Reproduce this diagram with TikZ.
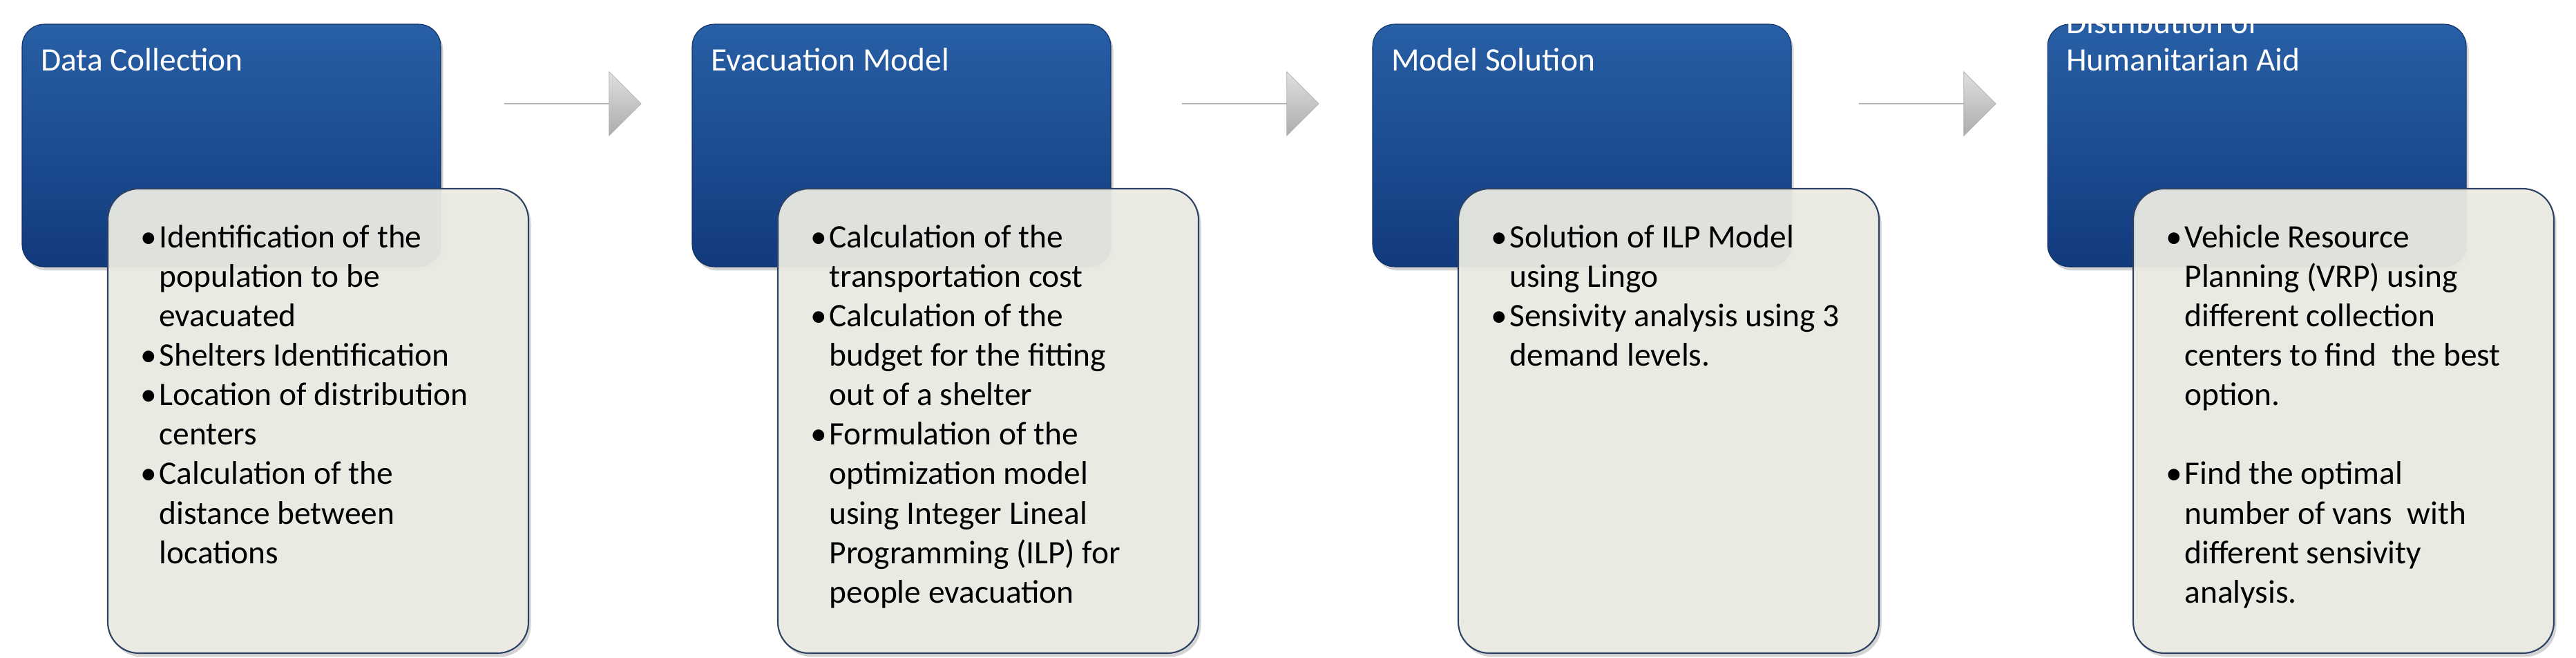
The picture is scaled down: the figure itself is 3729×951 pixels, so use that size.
\documentclass[tikz,border=0pt]{standalone}
\usepackage{fontspec}
\setmainfont{Carlito}
\usetikzlibrary{shapes.arrows,shadows,fadings}
\definecolor{bluetop}{RGB}{40,95,165}
\definecolor{bluebot}{RGB}{18,58,125}
\definecolor{lightbox}{RGB}{236,236,228}
\definecolor{edgeblue}{RGB}{45,65,100}
\tikzset{
  x=0.02cm, y=-0.02cm,
  bluebox/.style={rounded corners=32*0.02cm, top color=bluetop, bottom color=bluebot, draw=bluebot!80!black, line width=0.6pt, drop shadow={shadow xshift=2pt,shadow yshift=-3pt,opacity=0.35}},
  lightbox/.style={rounded corners=45*0.02cm, fill=lightbox, fill opacity=0.93, draw=edgeblue, line width=1.2pt, drop shadow={shadow xshift=2pt,shadow yshift=-3pt,opacity=0.35}},
  title/.style={anchor=base west, text=white, font=\fontsize{27}{32.5}\selectfont, align=left, inner sep=0pt},
  body/.style={anchor=north west, font=\fontsize{27}{32.5}\selectfont, inner sep=0pt, text=black},
  flowarrow/.style={single arrow, single arrow head extend=0.75cm, minimum height=198*0.02cm, minimum width=93*0.02cm, inner sep=0pt, top color=gray!25, bottom color=gray!65, draw=gray!60, shape border rotate=0},
}
\newcommand{\grp}[5]{%
  \draw[bluebox] (#1+32,35) rectangle (#1+638,386);
  \node[title] (#2t) at (#1+59,102) {#3};
  \draw[lightbox] (#1+156,273) rectangle (#1+765,945);
  \node[body] (#2b) at (#1+203,318) {\begin{tabular}{@{}l@{\hspace{2pt}}l@{}}#4\end{tabular}};
  \path (#1+32,35) coordinate (#2nw) (#1+765,945) coordinate (#2se);
}
\begin{document}
\begin{tikzpicture}
\useasboundingbox (0,0) rectangle (3729,951);
\grp{0}{a}{Data Collection}{%
•&Identification of the\\ &population to be\\ &evacuated\\
•&Shelters Identification\\
•&Location of distribution\\ &centers\\
•&Calculation of the\\ &distance between\\ &locations}{}
\grp{970}{b}{Evacuation Model}{%
•&Calculation of the\\ &transportation cost\\
•&Calculation of the\\ &budget for the fitting\\ &out of a shelter\\
•&Formulation of the\\ &optimization model\\ &using Integer Lineal\\ &Programming (ILP) for\\ &people evacuation}{}
\grp{1955}{c}{Model Solution}{%
•&Solution of ILP Model\\ &using Lingo\\
•&Sensivity analysis using 3\\ &demand levels.}{}
\grp{2932}{d}{Distribution of\\[-2pt]Humanitarian Aid}{%
•&Vehicle Resource\\ &Planning (VRP) using\\ &different collection\\ &centers to find\ \ the best\\ &option.\\ & \\
•&Find the optimal\\ &number of vans\ \ with\\ &different sensivity\\ &analysis.}{}
\node[flowarrow] (ar1) at (829,150) {};
\node[flowarrow] (ar2) at (1810,150) {};
\node[flowarrow] (ar3) at (2790,150) {};
\end{tikzpicture}
\end{document}
